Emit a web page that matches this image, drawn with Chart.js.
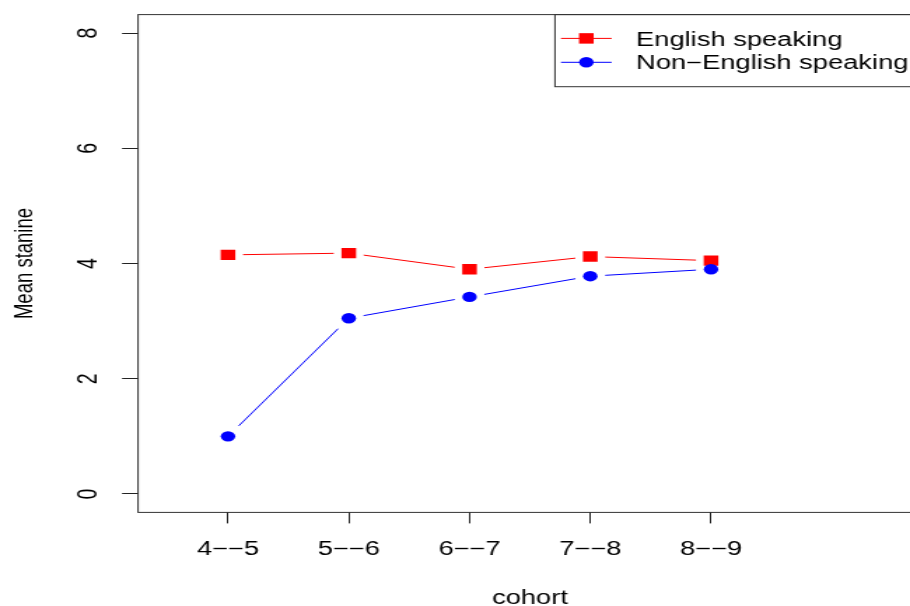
<!DOCTYPE html>
<html>
<head>
<meta charset="utf-8">
<script src="https://cdn.jsdelivr.net/npm/chart.js@4/dist/chart.umd.min.js"></script>
<style>
  html, body { margin: 0; padding: 0; background: #fff; overflow: hidden; }
  #wrap { width: 910px; height: 606px; overflow: hidden; position: relative; }
  /* the plot is drawn narrow and widened horizontally, giving the wide lettering */
  #c { position: absolute; left: 0; top: 0; transform: scaleX(1.4); transform-origin: 0 0; }
</style>
</head>
<body>
<div id="wrap"><canvas id="c" width="670" height="606"></canvas></div>
<script>
// Mean stanine by cohort, for the two language groups
const cohorts = ['4\u2212\u22125', '5\u2212\u22126', '6\u2212\u22127', '7\u2212\u22128', '8\u2212\u22129'];
const englishSpeaking = [4.15, 4.18, 3.90, 4.12, 4.05];
const nonEnglishSpeaking = [1.00, 3.05, 3.42, 3.78, 3.90];
const yTicks = [0, 2, 4, 6, 8];
const seriesNames = ['English speaking', 'Non\u2212English speaking'];
const xTitle = 'cohort';
const yTitle = 'Mean stanine';

const SX = 1.4;                         // horizontal widening of the canvas
const FAMILY = "'Liberation Sans', Arial, Helvetica, sans-serif";
const INK = '#000';

// connecting segments that stop short of each marker
const gappedLines = {
  id: 'gappedLines',
  beforeDatasetsDraw(chart) {
    const ctx = chart.ctx;
    const gap = 15;
    chart.data.datasets.forEach((ds, i) => {
      const pts = chart.getDatasetMeta(i).data;
      ctx.save();
      ctx.strokeStyle = ds.borderColor;
      ctx.lineWidth = 1;
      for (let k = 0; k < pts.length - 1; k++) {
        const a = pts[k], b = pts[k + 1];
        const dx = (b.x - a.x) * SX, dy = b.y - a.y;
        const len = Math.hypot(dx, dy);
        if (len <= 2 * gap) continue;
        const t0 = gap / len, t1 = 1 - gap / len;
        ctx.beginPath();
        ctx.moveTo(a.x + (b.x - a.x) * t0, a.y + dy * t0);
        ctx.lineTo(a.x + (b.x - a.x) * t1, a.y + dy * t1);
        ctx.stroke();
      }
      ctx.restore();
    });
  }
};

// plot frame and the boxed key in the top-right corner
const frameAndKey = {
  id: 'frameAndKey',
  afterDraw(chart) {
    const { ctx, chartArea: a } = chart;
    ctx.save();
    ctx.strokeStyle = '#333';
    ctx.lineWidth = 1;
    ctx.strokeRect(a.left, a.top, a.right - a.left, a.bottom - a.top);

    const kx = 396.4, kBottom = 86.7;
    ctx.strokeRect(kx, a.top, a.right - kx, kBottom - a.top);

    const rowY = [38.4, 62.3];
    const baseY = [45.7, 69.4];
    chart.data.datasets.forEach((ds, i) => {
      const y = rowY[i];
      ctx.strokeStyle = ds.borderColor;
      ctx.lineWidth = 1;
      ctx.beginPath();
      ctx.moveTo(400.7, y);
      ctx.lineTo(436.9, y);
      ctx.stroke();
      ctx.fillStyle = ds.pointBackgroundColor;
      Chart.helpers.drawPoint(ctx, { pointStyle: ds.pointStyle, radius: ds.pointRadius, borderWidth: 0, rotation: 0 }, 418.8, y);
      ctx.fillStyle = INK;
      ctx.font = `19.5px ${FAMILY}`;
      ctx.textBaseline = 'alphabetic';
      ctx.textAlign = 'left';
      ctx.fillText(ds.label, 454.3, baseY[i]);
    });
    ctx.restore();
  }
};

const toPoints = vals => vals.map((v, i) => ({ x: i + 1, y: v }));

new Chart(document.getElementById('c'), {
  type: 'line',
  data: {
    datasets: [
      {
        label: seriesNames[0],
        data: toPoints(englishSpeaking),
        showLine: false,
        borderColor: '#ff0000',
        pointStyle: 'rect',
        pointRadius: 7.4,
        pointBackgroundColor: '#ff0000',
        pointBorderWidth: 0,
        order: 1
      },
      {
        label: seriesNames[1],
        data: toPoints(nonEnglishSpeaking),
        showLine: false,
        borderColor: '#0000ff',
        pointStyle: 'circle',
        pointRadius: 5.2,
        pointBackgroundColor: '#0000ff',
        pointBorderWidth: 0,
        order: 0
      }
    ]
  },
  options: {
    responsive: false,
    animation: false,
    devicePixelRatio: 1,
    layout: { padding: { left: 0, top: 14.6, right: 11.6, bottom: 0 } },
    plugins: { legend: { display: false }, tooltip: { enabled: false } },
    events: [],
    scales: {
      x: {
        type: 'linear',
        min: 0.255,
        max: 6.745,
        afterBuildTicks: s => { s.ticks = cohorts.map((_, i) => ({ value: i + 1 })); },
        afterFit: s => { s.height = 93.6; s.paddingLeft = 0; s.paddingRight = 0; },
        ticks: {
          callback: (v, idx) => cohorts[idx],
          font: { family: FAMILY, size: 19.5 },
          color: INK,
          padding: 15,
          autoSkip: false,
          maxRotation: 0
        },
        grid: { display: true, drawOnChartArea: false, drawTicks: true, tickLength: 11, color: '#222', lineWidth: 1 },
        border: { display: false },
        title: { display: true, text: xTitle, color: INK, font: { family: FAMILY, size: 19.5, lineHeight: 0.8 }, padding: 0 }
      },
      y: {
        type: 'linear',
        min: -0.32,
        max: 8.32,
        afterBuildTicks: s => { s.ticks = yTicks.map(v => ({ value: v })); },
        afterFit: s => { s.width = 98.6; s.paddingTop = 0; s.paddingBottom = 0; },
        ticks: {
          font: { family: FAMILY, size: 19.5 },
          color: INK,
          padding: 18.5,
          minRotation: 90,
          maxRotation: 90,
          crossAlign: 'center'
        },
        grid: { display: true, drawOnChartArea: false, drawTicks: true, tickLength: 11.4, color: '#222', lineWidth: 1 },
        border: { display: false },
        title: { display: true, text: yTitle, color: INK, font: { family: FAMILY, size: 18.5, lineHeight: 1.2 }, padding: { top: 6.5, bottom: 0 } }
      }
    }
  },
  plugins: [gappedLines, frameAndKey]
});
</script>
</body>
</html>
